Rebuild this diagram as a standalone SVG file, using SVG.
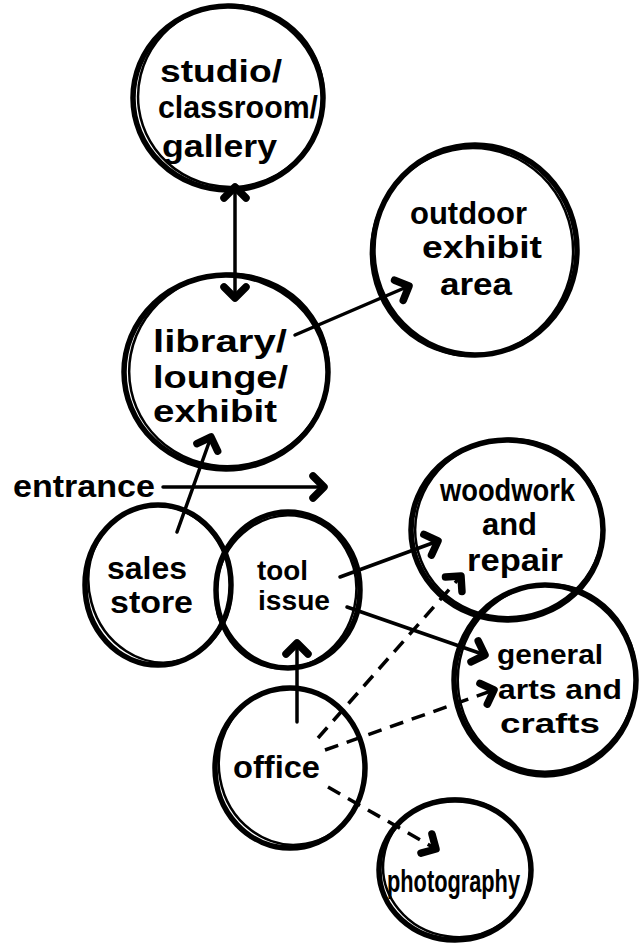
<svg xmlns="http://www.w3.org/2000/svg" width="639" height="943" viewBox="0 0 639 943">
<defs>
<style>
.b{fill:none;stroke:#000;stroke-width:5.5}
.b2{fill:none;stroke:#000;stroke-width:2.5}
.t{font-family:"Liberation Sans","DejaVu Sans",sans-serif;font-weight:bold;font-size:32px;fill:#000}
.s{font-size:27px}
.c{fill:none;stroke:#000;stroke-width:3.5;stroke-linecap:round}
.d{fill:none;stroke:#000;stroke-width:3.5;stroke-dasharray:14 9}
</style>
<marker id="ah" markerUnits="userSpaceOnUse" markerWidth="40" markerHeight="40" viewBox="-20 -20 40 40" refX="0" refY="0" orient="auto-start-reverse">
<path d="M-11,-11 L0,0 L-11,11" fill="none" stroke="#000" stroke-width="7.5" stroke-linecap="round" stroke-linejoin="round"/>
</marker>
</defs>
<rect width="639" height="943" fill="#fff"/>

<g id="connectors">
<path class="c" d="M235,187 L235,298" marker-start="url(#ah)" marker-end="url(#ah)"/>
<path class="c" d="M295,335 L409,286" marker-end="url(#ah)"/>
<path class="c" d="M177,532 L211,437" marker-end="url(#ah)"/>
<path class="c" d="M163,487 L324,487" marker-end="url(#ah)"/>
<path class="c" d="M340,577 L438,541" marker-end="url(#ah)"/>
<path class="c" d="M347,607 L485,655" marker-end="url(#ah)"/>
<path class="c" d="M297,722 L297,643" marker-end="url(#ah)"/>
<path class="d" d="M318,738 L461,576" marker-end="url(#ah)"/>
<path class="d" d="M325,750 L494,690" marker-end="url(#ah)"/>
<path class="d" d="M328,787 L436,849" marker-end="url(#ah)"/>
</g>

<g id="studio">
<ellipse class="b" cx="228" cy="98" rx="95" ry="92"/>
<ellipse class="b2" cx="231" cy="96" rx="93" ry="91" transform="rotate(-8 231 96)"/>
<text class="t" x="160" y="82" textLength="122" lengthAdjust="spacingAndGlyphs">studio/</text>
<text class="t" x="158" y="118" textLength="160" lengthAdjust="spacingAndGlyphs">classroom/</text>
<text class="t" x="162" y="157" textLength="115" lengthAdjust="spacingAndGlyphs">gallery</text>
</g>

<g id="outdoor">
<ellipse class="b" cx="475" cy="250" rx="102" ry="105"/>
<ellipse class="b2" cx="472" cy="252" rx="101" ry="104" transform="rotate(10 472 252)"/>
<text class="t" x="410" y="224" textLength="117" lengthAdjust="spacingAndGlyphs">outdoor</text>
<text class="t" x="422" y="258" textLength="120" lengthAdjust="spacingAndGlyphs">exhibit</text>
<text class="t" x="440" y="295" textLength="72" lengthAdjust="spacingAndGlyphs">area</text>
</g>

<g id="library">
<ellipse class="b" cx="226" cy="372" rx="102" ry="97"/>
<ellipse class="b2" cx="229" cy="370" rx="100" ry="96" transform="rotate(-12 229 370)"/>
<text class="t" x="153" y="352" textLength="134" lengthAdjust="spacingAndGlyphs">library/</text>
<text class="t" x="153" y="388" textLength="135" lengthAdjust="spacingAndGlyphs">lounge/</text>
<text class="t" x="153" y="422" textLength="124" lengthAdjust="spacingAndGlyphs">exhibit</text>
</g>

<g id="entrance">
<text class="t" x="13" y="497" textLength="142" lengthAdjust="spacingAndGlyphs">entrance</text>
</g>

<g id="sales">
<ellipse class="b" cx="158" cy="585" rx="73" ry="80"/>
<ellipse class="b2" cx="160" cy="584" rx="71" ry="79" transform="rotate(-15 160 584)"/>
<text class="t" x="107" y="579" textLength="80" lengthAdjust="spacingAndGlyphs">sales</text>
<text class="t" x="110" y="613" textLength="83" lengthAdjust="spacingAndGlyphs">store</text>
</g>

<g id="tool">
<ellipse class="b" cx="288" cy="590" rx="72" ry="78"/>
<ellipse class="b2" cx="286" cy="592" rx="70" ry="77" transform="rotate(12 286 592)"/>
<text class="t s" x="257" y="580" textLength="51" lengthAdjust="spacingAndGlyphs">tool</text>
<text class="t s" x="258" y="610" textLength="72" lengthAdjust="spacingAndGlyphs">issue</text>
</g>

<g id="woodwork">
<ellipse class="b" cx="507" cy="530" rx="96" ry="90"/>
<ellipse class="b2" cx="509" cy="528" rx="94" ry="89" transform="rotate(-10 509 528)"/>
<text class="t" x="440" y="501" textLength="135" lengthAdjust="spacingAndGlyphs">woodwork</text>
<text class="t" x="482" y="535" textLength="55" lengthAdjust="spacingAndGlyphs">and</text>
<text class="t" x="467" y="571" textLength="96" lengthAdjust="spacingAndGlyphs">repair</text>
</g>

<g id="general">
<ellipse class="b" cx="545" cy="680" rx="91" ry="95"/>
<ellipse class="b2" cx="547" cy="678" rx="89" ry="94" transform="rotate(12 547 678)"/>
<text class="t s" x="497" y="664" textLength="106" lengthAdjust="spacingAndGlyphs">general</text>
<text class="t s" x="498" y="699" textLength="124" lengthAdjust="spacingAndGlyphs">arts and</text>
<text class="t s" x="500" y="733" textLength="100" lengthAdjust="spacingAndGlyphs">crafts</text>
</g>

<g id="office">
<ellipse class="b" cx="290" cy="768" rx="75" ry="80"/>
<ellipse class="b2" cx="292" cy="766" rx="73" ry="79" transform="rotate(-10 292 766)"/>
<text class="t" x="233" y="778" textLength="87" lengthAdjust="spacingAndGlyphs">office</text>
</g>

<g id="photography">
<ellipse class="b" cx="455" cy="870" rx="76" ry="70"/>
<ellipse class="b2" cx="457" cy="868" rx="74" ry="69" transform="rotate(8 457 868)"/>
<text class="t" x="387" y="892" textLength="133" lengthAdjust="spacingAndGlyphs">photography</text>
</g>
</svg>
